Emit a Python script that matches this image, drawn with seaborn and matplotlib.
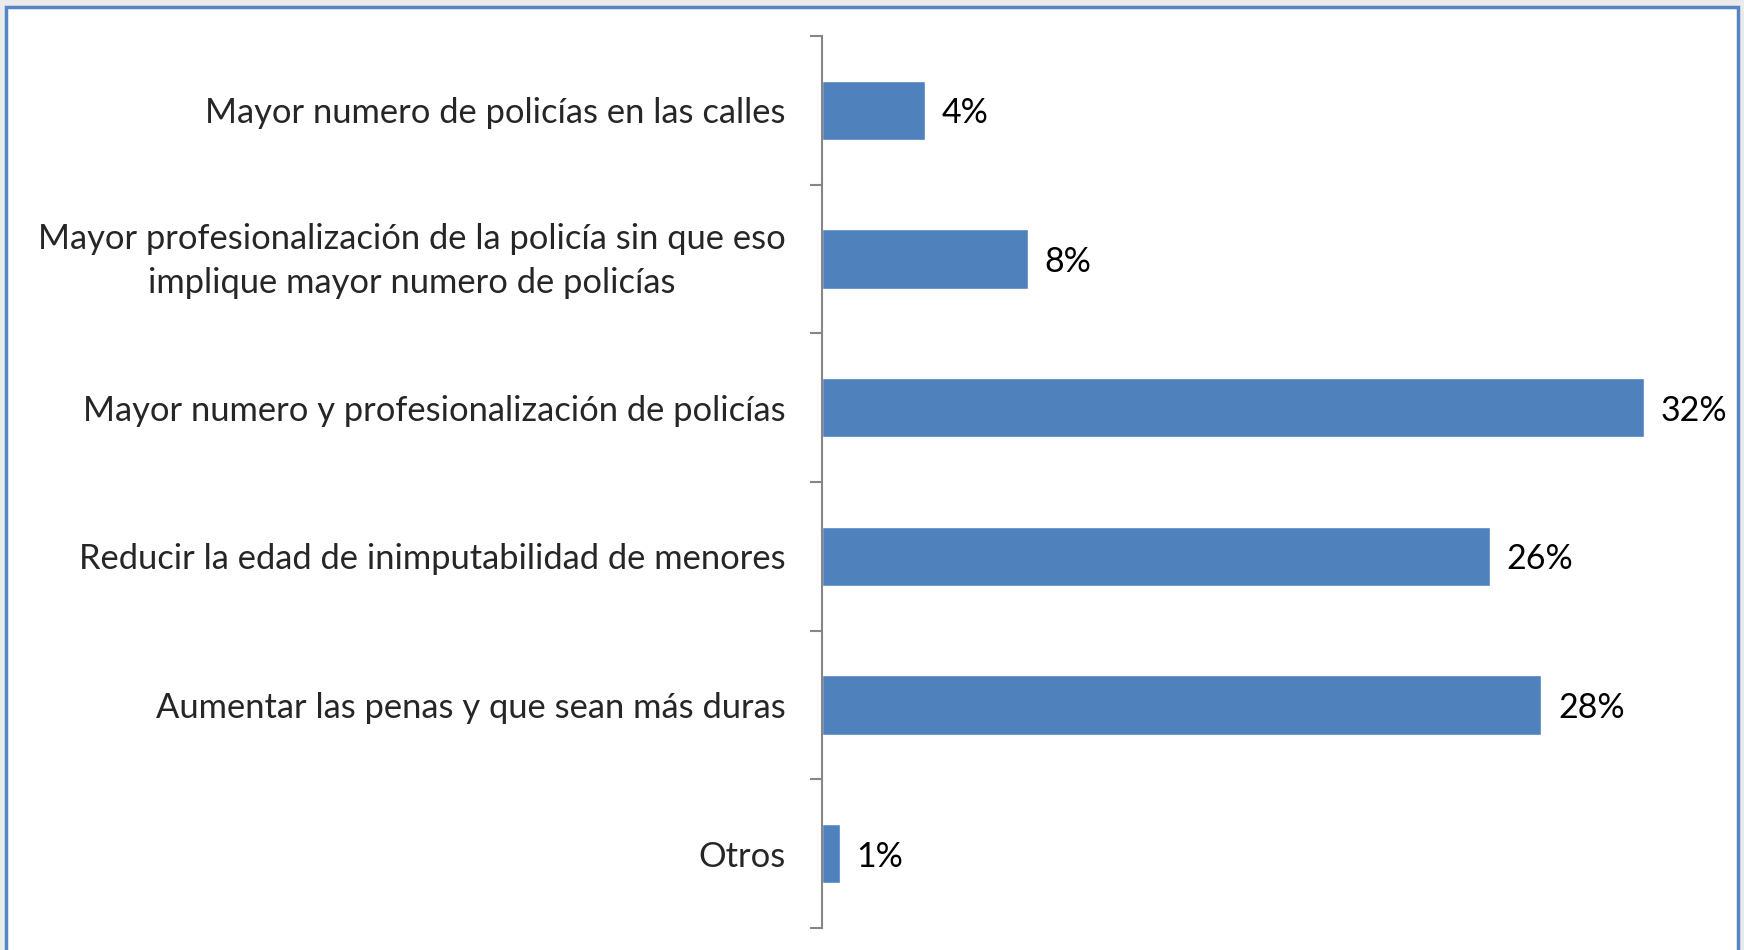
import matplotlib
matplotlib.use("Agg")
import matplotlib.pyplot as plt
import matplotlib.patches as patches
import matplotlib.transforms as mtransforms
import pandas as pd
import seaborn as sns

# datos
categorias = [
    "Mayor numero de policías en las calles",
    "Mayor profesionalización de la policía sin que eso\nimplique mayor numero de policías",
    "Mayor numero y profesionalización de policías",
    "Reducir la edad de inimputabilidad de menores",
    "Aumentar las penas y que sean más duras",
    "Otros",
]
valores = [4.0, 8.0, 32.0, 26.0, 28.0, 0.7]
etiquetas = ["4%", "8%", "32%", "26%", "28%", "1%"]

df = pd.DataFrame({"categoria": categorias, "valor": valores})

sns.set_theme(style="white")
plt.rcParams["font.family"] = ["Lato", "DejaVu Sans"]

fig = plt.figure(figsize=(17.44, 9.5), dpi=100)
fig.patch.set_facecolor("#ebebeb")
# marco blanco con borde azul
marco = patches.Rectangle((6 / 1744, -0.05), 1732 / 1744, 1 - 7 / 950 + 0.05,
                          transform=fig.transFigure, facecolor="white",
                          edgecolor="#5585c5", linewidth=2.5, zorder=-5)
fig.patches.append(marco)

ax = fig.add_axes([822 / 1744, 22 / 950, 822 / 1744, 892 / 950])
ax.set_zorder(2)
ax.set_facecolor("none")
sns.barplot(data=df, x="valor", y="categoria", orient="h", color="#4f81bd",
            saturation=1, width=0.4, ax=ax)

for i, (v, t) in enumerate(zip(valores, etiquetas)):
    ax.annotate(t, (v, i), xytext=(12, 0), textcoords="offset points",
                ha="left", va="center_baseline", fontsize=24.5, color="black",
                annotation_clip=False)

ax.set_xlim(0, 32)
ax.set_ylim(5.5, -0.5)
ax.set_xlabel("")
ax.set_ylabel("")
ax.set_xticks([])

# marcas en los limites de categoria, etiquetas en el centro
ax.set_yticks([i - 0.5 for i in range(len(categorias) + 1)])
ax.set_yticklabels([])
ax.set_yticks(range(len(categorias)), minor=True)
ax.set_yticklabels(categorias, minor=True, fontsize=24.8, ha="right",
                   multialignment="center", linespacing=1.45)
ax.tick_params(axis="y", which="major", length=9, width=1.5, color="#868686", left=True)
ax.tick_params(axis="y", which="minor", length=0, pad=26)

# subir un poco la etiqueta de dos lineas
lab = ax.get_yticklabels(minor=True)[1]
lab.set_transform(lab.get_transform() + mtransforms.ScaledTranslation(0, 7 / 100, fig.dpi_scale_trans))

for s in ["top", "right", "bottom"]:
    ax.spines[s].set_visible(False)
ax.spines["left"].set_color("#868686")
ax.spines["left"].set_linewidth(1.5)

fig.savefig("out.png", dpi=100)
plt.close()
